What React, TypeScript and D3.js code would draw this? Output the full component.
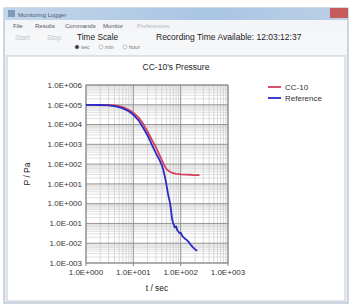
import * as d3 from "d3";

// CC-10 measured pressure
const cc10Time = [1, 2, 3, 4, 5, 6, 8, 10, 13, 16, 20, 25, 30, 35, 40, 45, 50, 60, 70, 80, 100, 130, 160, 200, 250];
const cc10Pa = [100000, 100000, 97700, 93300, 85100, 75900, 56200, 39800, 22400, 11200, 4470, 1580, 708, 316, 158, 89, 56, 40, 35, 32, 30, 29.5, 29, 28, 28];

// Reference gauge
const refTime = [1, 2, 3, 4, 5, 6, 8, 10, 13, 16, 20, 25, 30, 35, 40, 43, 47, 51, 55, 60, 63, 66, 70, 75, 80, 85, 95, 100, 110, 120, 137, 150, 160, 180, 200, 224];
const refPa = [100000, 97700, 93300, 85100, 75900, 66100, 46800, 31600, 15800, 7080, 2820, 891, 355, 178, 89, 50, 20, 7.1, 2.5, 1.0, 0.4, 0.16, 0.1, 0.063, 0.071, 0.045, 0.032, 0.034, 0.022, 0.018, 0.014, 0.011, 0.0089, 0.0063, 0.005, 0.0042];

const xTicks = [1, 10, 100, 1000];
const yTicks = [1e6, 1e5, 1e4, 1e3, 1e2, 1e1, 1e0, 1e-1, 1e-2, 1e-3];

const menuItems = ["File", "Results", "Commands", "Monitor", "Preferences"];
const scaleOptions = ["sec", "min", "hour"];

const font = "'Liberation Sans', Arial, sans-serif";

function sci(v: number) {
  const e = Math.round(Math.log10(v));
  return `1.0E${e < 0 ? "-" : "+"}${String(Math.abs(e)).padStart(3, "0")}`;
}

function minors(lo: number, hi: number) {
  const out: number[] = [];
  for (let d = lo; d < hi; d++) for (let k = 2; k <= 9; k++) out.push(k * Math.pow(10, d));
  return out;
}

export default function App() {
  const W = 349, H = 305;
  const m = { left: 86, right: 228, top: 85, bottom: 263 };

  const x = d3.scaleLog().domain([1, 1000]).range([m.left, m.right]);
  const y = d3.scaleLog().domain([1e-3, 1e6]).range([m.bottom, m.top]);

  const line = d3.line<[number, number]>().x((d) => x(d[0])).y((d) => y(d[1]));
  const cc10Path = line(cc10Time.map((t, i) => [t, cc10Pa[i]]))!;
  const refPath = line(refTime.map((t, i) => [t, refPa[i]]))!;

  const xMinor = minors(0, 3);
  const yMinor = minors(-3, 6);

  const menuX = [13, 35, 65, 103, 137];

  return (
    <svg width={W} height={H} style={{ position: "absolute", left: 0, top: 0, fontFamily: font }}>
      <defs>
        <linearGradient id="tb" x1="0" x2="1" y1="0" y2="0">
          <stop offset="0" stopColor="#c3d6ea" />
          <stop offset="0.6" stopColor="#a9c5e3" />
          <stop offset="1" stopColor="#bcd0e6" />
        </linearGradient>
      </defs>
      <rect width={W} height={H} fill="#ffffff" />

      {/* window frame */}
      <rect x={4} y={8} width={344} height={295} fill="#eef2f7" stroke="#9fb3c8" />
      <rect x={4} y={8} width={344} height={12} fill="url(#tb)" />
      <rect x={8} y={10} width={7} height={7} fill="#7f9bb8" />
      <text x={18} y={16.5} fontSize={6} fill="#4a5d72">Monitoring Logger</text>
      <rect x={330} y={8} width={18} height={10} fill="#c75a5a" />

      {/* menu bar */}
      <rect x={5} y={20} width={342} height={10} fill="#f3f5f8" />
      {menuItems.map((s, i) => (
        <text key={s} x={menuX[i]} y={27.5} fontSize={6} fill={i === 4 ? "#b8b8b8" : "#555"}>{s}</text>
      ))}

      {/* toolbar */}
      <rect x={5} y={30} width={342} height={25} fill="#f6f7f9" />
      <text x={15} y={40} fontSize={7} fill="#c4c4c4">Start</text>
      <text x={47} y={40} fontSize={7} fill="#c4c4c4">Stop</text>
      <text x={77} y={40} fontSize={8.3} fill="#222">Time Scale</text>
      {scaleOptions.map((s, i) => (
        <g key={s} transform={`translate(${77 + i * 24},49)`}>
          <circle cx={0} cy={-2} r={2} fill={i === 0 ? "#333" : "#fff"} stroke="#999" strokeWidth={0.6} />
          <text x={4} y={0} fontSize={5.5} fill="#777">{s}</text>
        </g>
      ))}
      <text x={156} y={40} fontSize={8.5} fill="#222">Recording Time Available:  12:03:12:37</text>

      {/* chart panel */}
      <rect x={7} y={56} width={338} height={245} fill="#ffffff" stroke="#c8ccd2" />

      <text x={176} y={70} fontSize={8.5} textAnchor="middle" fill="#222">CC-10's Pressure</text>

      {/* grid */}
      {yMinor.map((v) => (
        <line key={`ym${v}`} x1={m.left} x2={m.right} y1={y(v)} y2={y(v)} stroke="#d2d2d2" strokeWidth={0.7} />
      ))}
      {xMinor.map((v) => (
        <line key={`xm${v}`} x1={x(v)} x2={x(v)} y1={m.top} y2={m.bottom} stroke="#c8c8c8" strokeWidth={0.7} />
      ))}
      {yTicks.map((v) => (
        <line key={`yM${v}`} x1={m.left} x2={m.right} y1={y(v)} y2={y(v)} stroke="#8a8a8a" strokeWidth={0.9} />
      ))}
      {xTicks.map((v) => (
        <line key={`xM${v}`} x1={x(v)} x2={x(v)} y1={m.top} y2={m.bottom} stroke="#8a8a8a" strokeWidth={0.9} />
      ))}
      <rect x={m.left} y={m.top} width={m.right - m.left} height={m.bottom - m.top} fill="none" stroke="#888" strokeWidth={0.9} />

      {/* axis labels */}
      {yTicks.map((v) => (
        <text key={`yl${v}`} x={m.left - 4} y={y(v) + 2.8} fontSize={8} textAnchor="end" fill="#333">{sci(v)}</text>
      ))}
      {xTicks.map((v) => (
        <g key={`xl${v}`}>
          <line x1={x(v)} x2={x(v)} y1={m.bottom} y2={m.bottom + 3} stroke="#888" />
          <text x={x(v)} y={m.bottom + 12} fontSize={8} textAnchor="middle" fill="#333">{sci(v)}</text>
        </g>
      ))}
      <text x={157} y={291} fontSize={8.5} textAnchor="middle" fill="#222">t / sec</text>
      <text transform={`translate(30,${(m.top + m.bottom) / 2}) rotate(-90)`} fontSize={8.5} textAnchor="middle" fill="#222">P / Pa</text>

      {/* series */}
      <path d={cc10Path} fill="none" stroke="#d4405c" strokeWidth={1.8} strokeLinejoin="round" />
      <path d={refPath} fill="none" stroke="#2a2ac4" strokeWidth={1.8} strokeLinejoin="round" />

      {/* legend */}
      <line x1={268} x2={281} y1={87} y2={87} stroke="#d4405c" strokeWidth={1.8} />
      <text x={285} y={90} fontSize={8} fill="#333">CC-10</text>
      <line x1={268} x2={281} y1={98} y2={98} stroke="#2a2ac4" strokeWidth={1.8} />
      <text x={285} y={101} fontSize={8} fill="#333">Reference</text>
    </svg>
  );
}
